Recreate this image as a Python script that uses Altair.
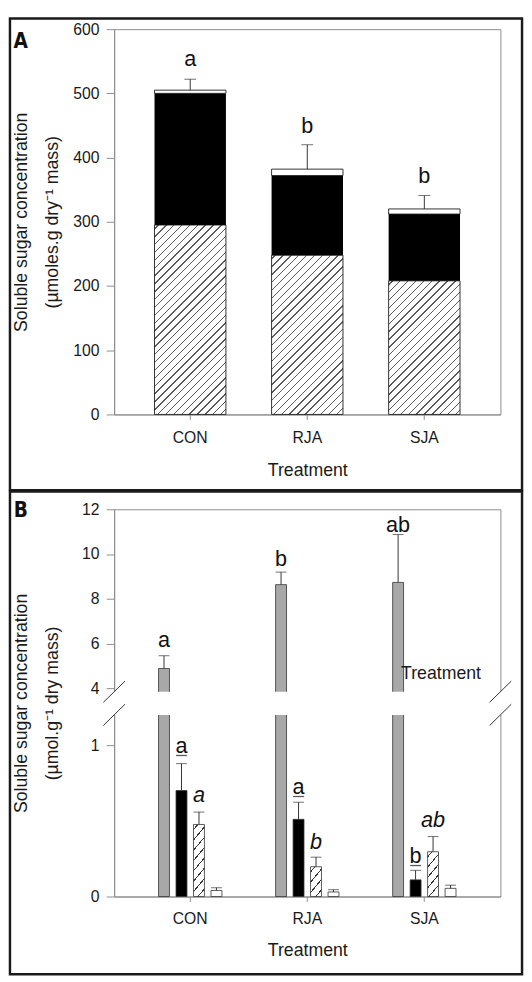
import math
import altair as alt
import pandas as pd

# ---------------- data ----------------
treatments = ["CON", "RJA", "SJA"]

# Panel A: stacked components (hatched bottom, black middle, white top)
a_hatched = [295, 248, 208]
a_black = [205, 124, 104]
a_white = [5, 10, 8]
a_err_top = [522, 420, 341]
a_letters = ["a", "b", "b"]
a_letter_y = [542, 438, 361]

# Panel B: four sugars per treatment
components = ["grey", "black", "hatched", "white"]
b_grey = [4.88, 8.63, 8.73]
b_grey_err = [5.45, 9.19, 10.87]
b_black = [0.70, 0.51, 0.11]
b_black_err = [0.878, 0.623, 0.173]
b_hatched = [0.476, 0.197, 0.296]
b_hatched_err = [0.558, 0.26, 0.396]
b_white = [0.04, 0.03, 0.054]
b_white_err = [0.058, 0.045, 0.075]

b_grey_letters = ["a", "b", "ab"]
b_grey_letter_y = [5.86, 9.45, 10.99]
b_black_letters = ["a", "a", "b"]
b_black_letter_y = [0.948, 0.677, 0.221]
b_hatched_letters = ["a", "b", "ab"]
b_hatched_letter_y = [0.623, 0.312, 0.461]

b_break_low = 1.2
b_break_high = 3.84
b_ticks = [0, 1, 4, 6, 8, 10, 12]
a_ticks = [0, 100, 200, 300, 400, 500, 600]

# ---------------- geometry / styles ----------------
W = 393
HA = 392
HB = 394
PX_LOW = 154.0
PX_HIGH = 22.75
PI, PO = 0.39, 0.345
OPI, OPO = 0.375, 0.23
STEP = W / (3 - PI + 2 * PO)
BAND_A = STEP * (1 - PI)
BAND_O = BAND_A / (4 - OPI + 2 * OPO) * (1 - OPI)

FONT = "Liberation Sans"
PANEL_FONT = "DejaVu Sans Condensed, Liberation Sans Narrow, Arial Narrow, sans-serif"
AXC = "#8c8c8c"
TXT = "#1a1a1a"


def hatch_fill(w, h, spacing, m, color, lw):
    L = m * w + h
    k = (m / h + 1 / w) / ((m / h) ** 2 + (1 / w) ** 2)
    gx, gy = k * m / h, k / w
    half = lw * math.sqrt(1 + m * m) / 2 / L
    stops = [{"offset": 0, "color": "#ffffff"}]
    c = spacing * 0.5
    while c < L:
        t = c / L
        if half < t < 1 - half:
            stops += [
                {"offset": t - half, "color": "#ffffff"},
                {"offset": t - half, "color": color},
                {"offset": t + half, "color": color},
                {"offset": t + half, "color": "#ffffff"},
            ]
        c += spacing
    stops.append({"offset": 1, "color": "#ffffff"})
    return {"gradient": "linear", "x1": 0, "y1": 0, "x2": gx, "y2": gy, "stops": stops}


AX = dict(domainColor=AXC, tickColor=AXC, labelColor=TXT, titleColor=TXT,
          labelFont=FONT, titleFont=FONT, labelFontSize=16, titleFontSize=18,
          titleFontWeight="normal", grid=False)

x_scale = alt.Scale(domain=treatments, paddingInner=PI, paddingOuter=PO)
xo_scale = alt.Scale(domain=components, paddingInner=OPI, paddingOuter=OPO)
ya_scale = alt.Scale(domain=[0, 600], nice=False)
yb_scale = alt.Scale(domain=[0, b_break_low, b_break_high, 12],
                     range=[HB, HB - b_break_low * PX_LOW, (12 - b_break_high) * PX_HIGH, 0],
                     nice=False, zero=False)

x_axis_A = alt.Axis(title="Treatment", labelAngle=0, tickSize=5, labelPadding=10.5,
                    titleX=W / 2, titleY=57.5, titleAlign="center", titleBaseline="middle", **AX)
x_axis_B = alt.Axis(title="Treatment", labelAngle=0, tickSize=5, labelPadding=9.7,
                    titleX=W / 2, titleY=55.5, titleAlign="center", titleBaseline="middle", **AX)
y_axis_A = alt.Axis(values=a_ticks, title=["Soluble sugar concentration", "(µmoles.g dry⁻¹ mass)"],
                    titleAngle=270, titleAlign="center", titleBaseline="middle",
                    titleX=-94, titleY=HA / 2, titleLineHeight=31,
                    tickSize=8, labelPadding=7.5, **AX)
y_axis_B = alt.Axis(values=b_ticks, title=["Soluble sugar concentration", "(µmol.g⁻¹ dry mass)"],
                    titleAngle=270, titleAlign="center", titleBaseline="middle",
                    titleX=-94, titleY=HB / 2, titleLineHeight=31,
                    tickSize=8, labelPadding=7.5, **AX)


def XA():
    return alt.X("t:N", scale=x_scale, axis=x_axis_A)


def YA(f):
    return alt.Y(f, scale=ya_scale, axis=y_axis_A)


def XB():
    return alt.X("t:N", scale=x_scale, axis=x_axis_B)


def YB(f=None, datum=None):
    if datum is not None:
        return alt.Y(datum=datum, scale=yb_scale, axis=y_axis_B)
    return alt.Y(f, scale=yb_scale, axis=y_axis_B)


one = pd.DataFrame({"k": [0]})

# ---------------- panel A ----------------
dfA = pd.DataFrame({"t": treatments, "hatched": a_hatched, "black": a_black, "white": a_white,
                    "err": a_err_top, "letter": a_letters, "ly": a_letter_y})
dfA["h_top"] = dfA["hatched"]
dfA["b_top"] = dfA["h_top"] + dfA["black"]
dfA["w_top"] = dfA["b_top"] + dfA["white"]

layersA = []
for i, t in enumerate(treatments):
    g = hatch_fill(BAND_A, a_hatched[i] * HA / 600, 8.0, 1.0, "#5a5a5a", 1.0)
    layersA.append(
        alt.Chart(dfA[dfA.t == t]).mark_bar(fill=g, stroke=TXT, strokeWidth=0.9).encode(
            x=XA(), y=YA("h_top:Q"), y2=alt.datum(0)))
layersA.append(alt.Chart(dfA).mark_bar(color="#000000").encode(
    x=XA(), y=YA("b_top:Q"), y2=alt.Y2("h_top:Q")))
layersA.append(alt.Chart(dfA).mark_bar(fill="#ffffff", stroke=TXT, strokeWidth=0.9).encode(
    x=XA(), y=YA("w_top:Q"), y2=alt.Y2("b_top:Q")))
layersA.append(alt.Chart(dfA).mark_rule(color="#333333", strokeWidth=1).encode(
    x=XA(), y=YA("w_top:Q"), y2=alt.Y2("err:Q")))
layersA.append(alt.Chart(dfA).mark_tick(color="#333333", size=12, thickness=1).encode(
    x=XA(), y=YA("err:Q")))
layersA.append(alt.Chart(dfA).mark_text(font=FONT, fontSize=22, baseline="alphabetic",
                                        align="center", color="#111111").encode(
    x=XA(), y=YA("ly:Q"), text="letter:N"))
layersA.append(alt.Chart(one).mark_rect(filled=False, color=TXT, strokeWidth=2.5).encode(
    x=alt.value(-106), x2=alt.value(W + 22), y=alt.value(-10.75), y2=alt.value(HA + 77)))
layersA.append(alt.Chart(one).mark_text(text="A", font=PANEL_FONT, fontWeight="bold",
                                        fontSize=21, align="center", baseline="alphabetic",
                                        color="#111111").encode(x=alt.value(-95), y=alt.value(19)))

panelA = alt.layer(*layersA).properties(width=W, height=HA)

# ---------------- panel B ----------------
rows = []
vals = {"grey": (b_grey, b_grey_err), "black": (b_black, b_black_err),
        "hatched": (b_hatched, b_hatched_err), "white": (b_white, b_white_err)}
for i, t in enumerate(treatments):
    for c in components:
        rows.append({"t": t, "c": c, "v": vals[c][0][i], "err": vals[c][1][i]})
dfB = pd.DataFrame(rows)

lrows = []
for i, t in enumerate(treatments):
    lrows.append({"t": t, "c": "grey", "text": b_grey_letters[i], "y": b_grey_letter_y[i], "s": "n"})
    lrows.append({"t": t, "c": "black", "text": b_black_letters[i], "y": b_black_letter_y[i], "s": "u"})
    lrows.append({"t": t, "c": "hatched", "text": b_hatched_letters[i], "y": b_hatched_letter_y[i], "s": "i"})
dfL = pd.DataFrame(lrows)

xob = alt.XOffset("c:N", scale=xo_scale)

layersB = []
layersB.append(alt.Chart(dfB[dfB.c != "hatched"]).mark_bar(stroke="#333333", strokeWidth=0.8).encode(
    x=XB(), xOffset=xob, y=YB("v:Q"), y2=alt.datum(0),
    color=alt.Color("c:N", scale=alt.Scale(domain=["grey", "black", "white"],
                                           range=["#a8a8a8", "#000000", "#ffffff"]), legend=None)))
for i, t in enumerate(treatments):
    g = hatch_fill(BAND_O, b_hatched[i] * PX_LOW, 10.5, 1.2, "#333333", 1.0)
    layersB.append(alt.Chart(dfB[(dfB.c == "hatched") & (dfB.t == t)]).mark_bar(
        fill=g, stroke="#333333", strokeWidth=0.8).encode(
        x=XB(), xOffset=xob, y=YB("v:Q"), y2=alt.datum(0)))
layersB.append(alt.Chart(dfB).mark_rule(color="#333333", strokeWidth=1).encode(
    x=XB(), xOffset=xob, y=YB("v:Q"), y2=alt.Y2("err:Q")))
layersB.append(alt.Chart(dfB).mark_tick(color="#333333", size=11, thickness=1).encode(
    x=XB(), xOffset=xob, y=YB("err:Q")))
# axis break gap
layersB.append(alt.Chart(one).mark_rect(color="#ffffff").encode(
    x=alt.value(-4), x2=alt.value(W + 4),
    y=YB(datum=b_break_high), y2=alt.Y2(datum=b_break_low)))
for xa0, xa1 in [(-11, 11), (W - 11, W + 11)]:
    for yv in [b_break_high, b_break_low]:
        layersB.append(alt.Chart(one).mark_rule(color="#333333", strokeWidth=1,
                                                yOffset=10.8, y2Offset=-10.8).encode(
            x=alt.value(xa0), x2=alt.value(xa1),
            y=YB(datum=yv), y2=alt.Y2(datum=yv)))
# letters
layersB.append(alt.Chart(dfL[dfL.s != "i"]).mark_text(font=FONT, fontSize=22, baseline="alphabetic",
                                                      align="center", color="#111111").encode(
    x=XB(), xOffset=xob, y=YB("y:Q"), text="text:N"))
layersB.append(alt.Chart(dfL[dfL.s == "i"]).mark_text(font=FONT, fontSize=22, fontStyle="italic",
                                                      baseline="alphabetic", align="center",
                                                      color="#111111").encode(
    x=XB(), xOffset=xob, y=YB("y:Q"), text="text:N"))
layersB.append(alt.Chart(dfL[dfL.s == "u"]).mark_tick(color="#111111", size=11, thickness=1.3,
                                                      yOffset=2.5).encode(
    x=XB(), xOffset=xob, y=YB("y:Q")))
# stray label present in the original figure
stray = pd.DataFrame({"t": ["SJA"], "y": [4.62], "text": ["Treatment"]})
layersB.append(alt.Chart(stray).mark_text(font=FONT, fontSize=18, align="center", baseline="middle",
                                          dx=17, color=TXT).encode(
    x=XB(), y=YB("y:Q"), text="text:N"))
layersB.append(alt.Chart(one).mark_rect(filled=False, color=TXT, strokeWidth=2.5).encode(
    x=alt.value(-106), x2=alt.value(W + 22), y=alt.value(-18), y2=alt.value(HB + 79)))
layersB.append(alt.Chart(one).mark_text(text="B", font=PANEL_FONT, fontWeight="bold",
                                        fontSize=21, align="center", baseline="alphabetic",
                                        color="#111111").encode(x=alt.value(-95), y=alt.value(8)))

panelB = alt.layer(*layersB).properties(width=W, height=HB)

chart = alt.vconcat(panelA, panelB, spacing=-2.5).properties(padding=0).configure_view(
    stroke=AXC, strokeWidth=1)

chart.save("out.html", embed_options={"renderer": "svg", "actions": False})
